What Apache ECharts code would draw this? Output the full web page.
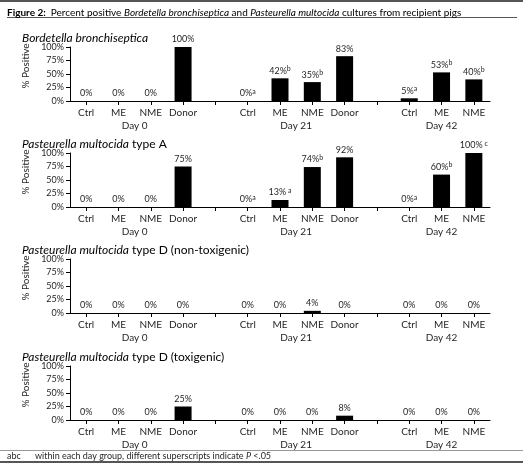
<!DOCTYPE html>
<html>
<head>
<meta charset="utf-8">
<script src="https://cdn.jsdelivr.net/npm/echarts@6/dist/echarts.min.js"></script>
<style>
html,body{margin:0;padding:0;background:#fff;}
#c{width:523px;height:469px;}
</style>
</head>
<body>
<div id="c"></div>
<script>
// ---- data ----
const categories = ['Ctrl','ME','NME','Donor','','Ctrl','ME','NME','Donor','','Ctrl','ME','NME'];
const dayLabels = ['Day 0','Day 21','Day 42'];
const yTicks = [0,25,50,75,100];

const bordetella    = [0,0,0,100,null,0,42,35,83,null,5,53,40];
const bordetellaSup = ['','','','','','a','b','b','','','a','b','b'];

const pmTypeA    = [0,0,0,75,null,0,13,74,92,null,0,60,100];
const pmTypeASup = ['','','','','','a',' a','b','','','a','b',' c'];

const pmTypeDNonTox    = [0,0,0,0,null,0,0,4,0,null,0,0,0];
const pmTypeDNonToxSup = ['','','','','','','','','','','','',''];

const pmTypeDTox    = [0,0,0,25,null,0,0,0,8,null,0,0,0];
const pmTypeDToxSup = ['','','','','','','','','','','','',''];

const panelTitleItalic = ['Bordetella bronchiseptica','Pasteurella multocida','Pasteurella multocida','Pasteurella multocida'];
const panelTitleRest   = ['',' type A',' type D (non-toxigenic)',' type D (toxigenic)'];

const panels = [
  {values: bordetella, sup: bordetellaSup},
  {values: pmTypeA, sup: pmTypeASup},
  {values: pmTypeDNonTox, sup: pmTypeDNonToxSup},
  {values: pmTypeDTox, sup: pmTypeDToxSup}
];

// ---- layout ----
const FONT = 'Lato, "Open Sans", sans-serif';
const TXT = '#231f20';
const gridTops = [47, 153, 259, 366];
const gridH = 54;

// day-label axis: 27 half-slot points across 13 categories
const dayAxisData = new Array(27).fill('');
dayAxisData[4] = dayLabels[0];
dayAxisData[14] = dayLabels[1];
dayAxisData[23] = dayLabels[2];

const grids = [], xAxes = [], yAxes = [], series = [], titles = [];

titles.push({
  left: 7, top: 4, padding: 0,
  text: '{b|Figure 2:} {n|Percent positive }{i|Bordetella bronchiseptica}{n| and }{i|Pasteurella multocida}{n| cultures from recipient pigs}',
  textStyle: {
    fontWeight: 'normal',
    rich: {
      b: {fontFamily: FONT, fontSize: 10, fontWeight: 'bold', color: '#000'},
      n: {fontFamily: FONT, fontSize: 10, fontWeight: 'normal', color: '#000'},
      i: {fontFamily: FONT, fontSize: 10, fontWeight: 'normal', fontStyle: 'italic', color: '#000'}
    }
  }
});

panels.forEach((p, k) => {
  grids.push({left: 70, width: 420, top: gridTops[k], height: gridH});
  titles.push({
    left: 22, top: gridTops[k] - 15, padding: 0,
    text: '{i|' + panelTitleItalic[k] + '}' + (panelTitleRest[k] ? '{n|' + panelTitleRest[k] + '}' : ''),
    textStyle: {
      fontWeight: 'normal',
      rich: {
        i: {fontFamily: FONT, fontSize: 12, fontWeight: 'normal', fontStyle: 'italic', color: '#000'},
        n: {fontFamily: FONT, fontSize: 12, fontWeight: 'normal', color: '#000'}
      }
    }
  });
  xAxes.push({
    type: 'category', gridIndex: k, data: categories,
    axisLine: {lineStyle: {color: '#000', width: 1}},
    axisTick: {show: true, alignWithLabel: true, length: 4, lineStyle: {color: '#000'}},
    axisLabel: {interval: 0, margin: 7, fontFamily: FONT, fontSize: 10, color: TXT},
    splitLine: {show: false}
  });
  xAxes.push({
    type: 'category', gridIndex: k, data: dayAxisData, boundaryGap: false, position: 'bottom',
    axisLine: {show: false}, axisTick: {show: false},
    axisLabel: {interval: 0, margin: 20, fontFamily: FONT, fontSize: 10, color: TXT},
    splitLine: {show: false}
  });
  yAxes.push({
    type: 'value', gridIndex: k, min: yTicks[0], max: yTicks[yTicks.length-1], interval: 25,
    name: '% Positive', nameLocation: 'middle', nameGap: 39, nameMoveOverlap: false,
    nameTextStyle: {fontFamily: FONT, fontSize: 10, color: TXT, padding: [0, 0, 0, 16]},
    axisLine: {show: true, lineStyle: {color: '#000', width: 1}},
    axisTick: {show: true, length: 4, lineStyle: {color: '#000'}},
    axisLabel: {margin: 6, fontFamily: FONT, fontSize: 9, color: TXT, formatter: '{value}%'},
    splitLine: {show: false}
  });
  series.push({
    type: 'bar', xAxisIndex: k * 2, yAxisIndex: k,
    data: p.values, barWidth: 17,
    itemStyle: {color: '#000'},
    label: {
      show: true, position: 'top', distance: 2,
      formatter: (prm) => {
        if (prm.value === null || prm.value === undefined || prm.value === '') return '';
        const s = p.sup[prm.dataIndex];
        return '{v|' + prm.value + '%}' + (s ? '{s|' + s + '}' : '');
      },
      rich: {
        v: {fontFamily: FONT, fontSize: 9, color: TXT, lineHeight: 11},
        s: {fontFamily: FONT, fontSize: 7, color: TXT, lineHeight: 7, verticalAlign: 'top'}
      }
    }
  });
});

const chart = echarts.init(document.getElementById('c'), null, {renderer: 'canvas'});
chart.setOption({
  animation: false,
  backgroundColor: '#fff',
  title: titles,
  grid: grids,
  xAxis: xAxes,
  yAxis: yAxes,
  series: series,
  graphic: [
    {type: 'line', shape: {x1: 0, y1: 1, x2: 523, y2: 1}, style: {stroke: '#555', lineWidth: 2}},
    {type: 'line', shape: {x1: 7, y1: 17.5, x2: 517, y2: 17.5}, style: {stroke: '#555', lineWidth: 1}},
    {type: 'line', shape: {x1: 0, y1: 450.5, x2: 523, y2: 450.5}, style: {stroke: '#999', lineWidth: 1}},
    {type: 'text', left: 7, top: 452, style: {text: 'abc', fontFamily: FONT, fontSize: 9, fill: TXT}},
    {type: 'text', left: 35, top: 452, style: {
      text: '{n|within each day group, different superscripts indicate }{i|P}{n| <.05}',
      rich: {
        n: {fontFamily: FONT, fontSize: 9, fill: TXT},
        i: {fontFamily: FONT, fontSize: 9, fontStyle: 'italic', fill: TXT}
      }
    }},
    {type: 'line', shape: {x1: 0, y1: 462, x2: 523, y2: 462}, style: {stroke: '#555', lineWidth: 2}}
  ]
});
</script>
</body>
</html>
